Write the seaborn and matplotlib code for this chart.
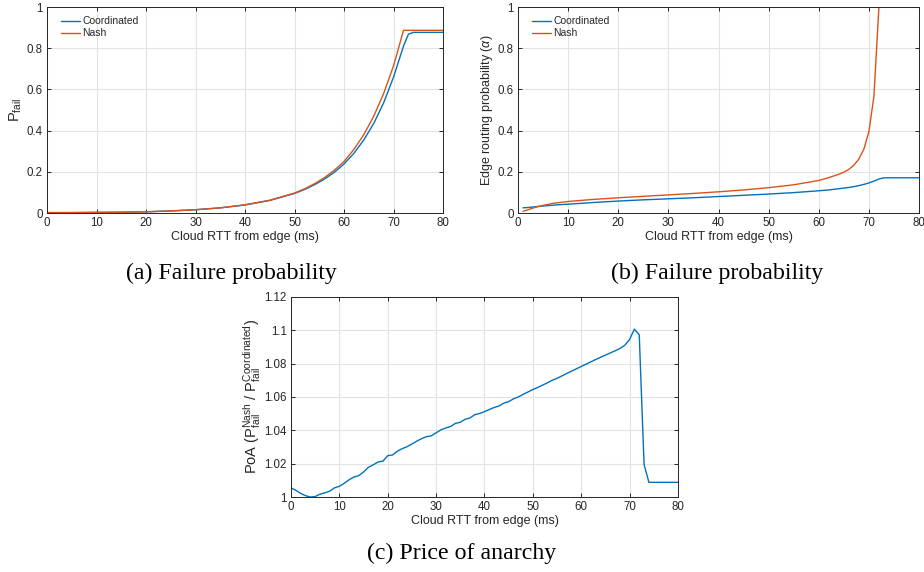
import numpy as np
import pandas as pd
import seaborn as sns
import matplotlib.pyplot as plt
from matplotlib.ticker import FuncFormatter

# (a) failure probability
rtt_a = [0, 5, 10, 15, 20, 25, 30, 35, 40, 45, 50, 52, 54, 56, 58, 60, 62, 64, 66, 68,
         70, 71, 72, 73, 74, 76, 78, 80]
pfail_coord = [0.002, 0.002, 0.003, 0.004, 0.006, 0.010, 0.016, 0.025, 0.039, 0.061, 0.095,
               0.114, 0.137, 0.164, 0.197, 0.238, 0.290, 0.355, 0.435, 0.535,
               0.660, 0.735, 0.810, 0.868, 0.877, 0.877, 0.877, 0.877]
pfail_nash = [0.002, 0.002, 0.003, 0.004, 0.006, 0.010, 0.016, 0.025, 0.040, 0.062, 0.097,
              0.117, 0.142, 0.171, 0.207, 0.250, 0.309, 0.381, 0.470, 0.580,
              0.715, 0.800, 0.887, 0.887, 0.887, 0.887, 0.887, 0.887]

# (b) edge routing probability
rtt_b = [1, 2, 3, 4, 5, 6, 7, 8, 10, 12, 15, 20, 25, 30, 35, 40, 45, 50, 55, 60, 62, 64,
         65, 66, 67, 68, 69, 70, 71, 72, 73, 74, 76, 78, 80]
alpha_coord = [0.025, 0.027, 0.029, 0.032, 0.034, 0.036, 0.038, 0.040, 0.043, 0.046, 0.051,
               0.058, 0.064, 0.069, 0.074, 0.080, 0.086, 0.092, 0.099, 0.108, 0.112, 0.118,
               0.121, 0.124, 0.128, 0.133, 0.139, 0.146, 0.155, 0.165, 0.171, 0.171, 0.171,
               0.171, 0.171]
alpha_nash = [0.008, 0.016, 0.024, 0.031, 0.037, 0.042, 0.047, 0.050, 0.056, 0.060, 0.066,
              0.074, 0.081, 0.088, 0.095, 0.103, 0.112, 0.123, 0.137, 0.158, 0.172, 0.188,
              0.198, 0.212, 0.232, 0.262, 0.310, 0.395, 0.565, 1.0, 1.0, 1.0, 1.0, 1.0, 1.0]

# (c) price of anarchy, 1 ms steps
rtt_c = list(range(0, 81))
poa = [1.0055, 1.0040, 1.0022, 1.0008, 1.0000, 1.0003, 1.0017, 1.0025, 1.0035, 1.0055,
       1.0064, 1.0082, 1.0103, 1.0120, 1.0128, 1.0150, 1.0178, 1.0193, 1.0210, 1.0215,
       1.0248, 1.0252, 1.0275, 1.0290, 1.0302, 1.0318, 1.0335, 1.0350, 1.0362, 1.0367,
       1.0385, 1.0403, 1.0414, 1.0423, 1.0442, 1.0448, 1.0466, 1.0474, 1.0494, 1.0501,
       1.0512, 1.0525, 1.0537, 1.0546, 1.0563, 1.0572, 1.0589, 1.0600, 1.0616, 1.0630,
       1.0645, 1.0657, 1.0671, 1.0685, 1.0700, 1.0712, 1.0726, 1.0741, 1.0755, 1.0769,
       1.0783, 1.0797, 1.0811, 1.0825, 1.0838, 1.0851, 1.0864, 1.0877, 1.0891, 1.0910,
       1.0945, 1.1007, 1.0973, 1.0195, 1.0088, 1.0088, 1.0088, 1.0088, 1.0088, 1.0088,
       1.0088]

BLUE = '#0072BD'
ORANGE = '#D95319'
INK = '#262626'

sns.set_theme(style='whitegrid')
plt.rcParams['font.family'] = ['Liberation Sans', 'DejaVu Sans']
plt.rcParams['mathtext.fontset'] = 'custom'
plt.rcParams['mathtext.rm'] = 'Liberation Sans'
plt.rcParams['mathtext.it'] = 'Liberation Sans:italic'


def style_ax(ax, ylim, yticks):
    ax.set_facecolor('white')
    ax.grid(True, color='#e3e3e3', linewidth=0.8)
    for s in ax.spines.values():
        s.set_color(INK)
        s.set_linewidth(0.7)
    ax.set_xlim(0, 80)
    ax.set_xticks(range(0, 81, 10))
    ax.set_ylim(*ylim)
    ax.set_yticks(yticks)
    ax.yaxis.set_major_formatter(FuncFormatter(lambda v, p: f'{v:g}'))
    ax.tick_params(direction='in', length=3, width=0.7, color=INK,
                   labelsize=8.3, labelcolor=INK, top=True, right=True,
                   bottom=True, left=True, pad=3)
    ax.set_xlabel('Cloud RTT from edge (ms)', fontsize=9, color=INK, labelpad=1)


fig = plt.figure(figsize=(9.24, 5.72), dpi=100)
ax_a = fig.add_axes([0.0509, 0.6276, 0.4286, 0.3601])
ax_b = fig.add_axes([0.5606, 0.6276, 0.4340, 0.3601])
ax_c = fig.add_axes([0.3149, 0.1311, 0.4188, 0.3497])

df_a = pd.concat([
    pd.DataFrame({'rtt': rtt_a, 'val': pfail_coord, 'series': 'Coordinated'}),
    pd.DataFrame({'rtt': rtt_a, 'val': pfail_nash, 'series': 'Nash'}),
])
df_b = pd.concat([
    pd.DataFrame({'rtt': rtt_b, 'val': alpha_coord, 'series': 'Coordinated'}),
    pd.DataFrame({'rtt': rtt_b, 'val': alpha_nash, 'series': 'Nash'}),
])
pal = {'Coordinated': BLUE, 'Nash': ORANGE}

for ax, df in [(ax_a, df_a), (ax_b, df_b)]:
    sns.lineplot(data=df, x='rtt', y='val', hue='series', palette=pal, lw=1.0,
                 ax=ax, estimator=None, sort=False)
    style_ax(ax, (0, 1), np.arange(0, 1.01, 0.2))
    leg = ax.legend(loc='upper left', bbox_to_anchor=(0.02, 0.985), frameon=False,
                    fontsize=7.5, handlelength=1.8, handletextpad=0.2,
                    borderaxespad=0.2, labelspacing=0.2)
    for t in leg.get_texts():
        t.set_color(INK)

ax_a.set_ylabel(r'P$_{\mathrm{fail}}$', fontsize=10.5, color=INK, labelpad=2)
ax_b.set_ylabel(r'Edge routing probability ($\alpha$)', fontsize=9, color=INK, labelpad=2)

sns.lineplot(x=rtt_c, y=poa, color=BLUE, lw=1.0, ax=ax_c)
style_ax(ax_c, (1, 1.12), np.arange(1, 1.121, 0.02))
ax_c.set_ylabel(r'PoA (P$_{\mathrm{fail}}^{\mathrm{Nash}}$ / P$_{\mathrm{fail}}^{\mathrm{Coordinated}}$)',
                fontsize=10.5, color=INK, labelpad=1)

cap = dict(fontsize=17.2, family='Liberation Serif', ha='center', va='center', color='black')
fig.text(0.2505, 0.522, '(a) Failure probability', **cap)
fig.text(0.776, 0.522, '(b) Failure probability', **cap)
fig.text(0.500, 0.032, '(c) Price of anarchy', **cap)

fig.savefig('out.png', dpi=100)
